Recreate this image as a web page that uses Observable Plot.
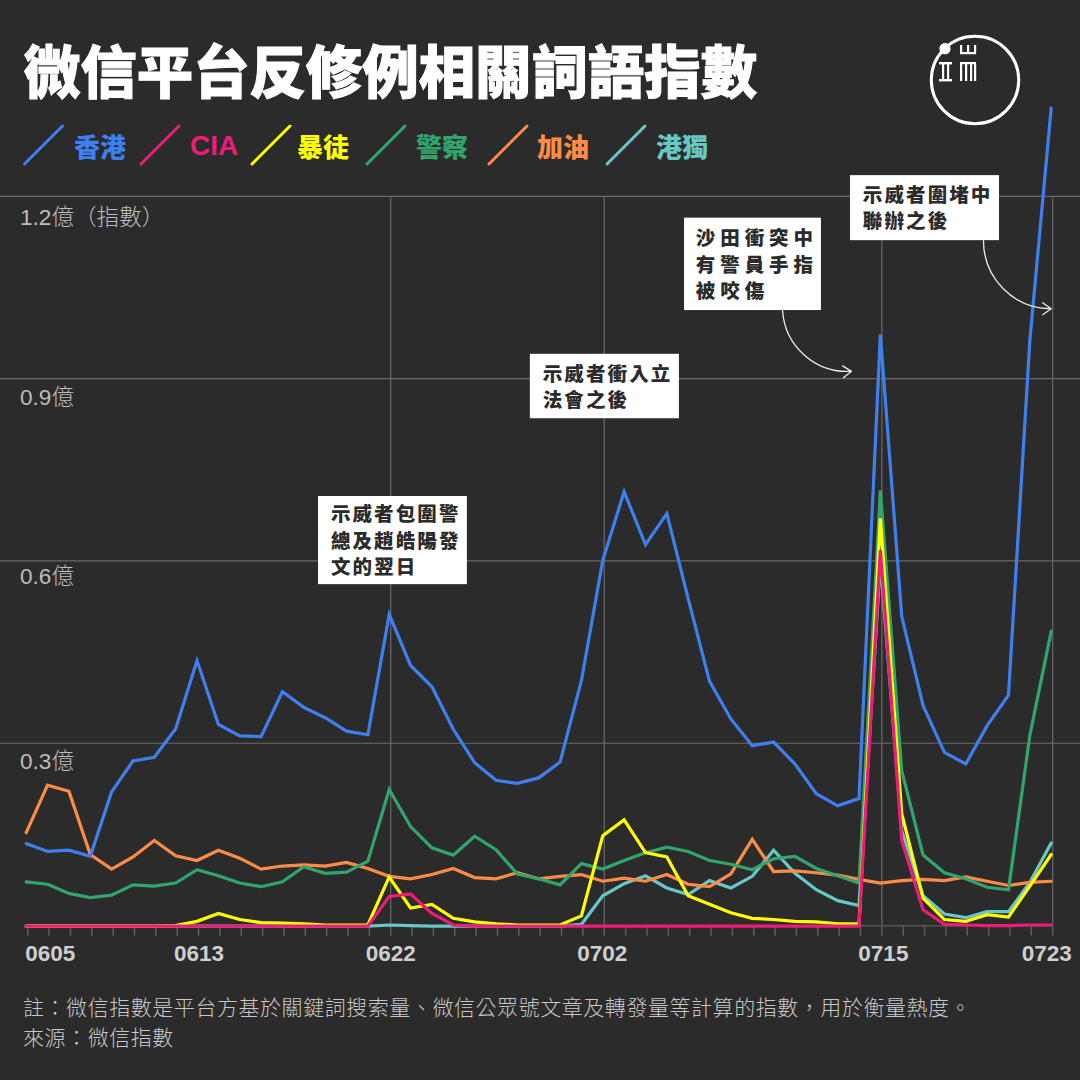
<!DOCTYPE html>
<html lang="zh-Hant"><head><meta charset="utf-8">
<script src="https://cdn.jsdelivr.net/npm/d3@7"></script>
<script src="https://cdn.jsdelivr.net/npm/@observablehq/plot@0.6"></script>
<style>
html,body{margin:0;padding:0;background:#2b2b2b;width:1080px;height:1080px;overflow:hidden}
body{position:relative;font-family:"Noto Sans CJK TC","Liberation Sans",sans-serif}
#title{position:absolute;left:24px;top:29px;font-size:56.4px;line-height:80px;font-weight:900;color:#fff;white-space:nowrap;-webkit-text-stroke:1px #fff}
#chart{position:absolute;left:0;top:100px}
#chart svg{display:block;overflow:visible}
#legend span{position:absolute;top:128px;font-size:26px;line-height:36px;font-weight:900;white-space:nowrap}
#swatches,#logo{position:absolute;left:0;top:0}
#caption{position:absolute;left:23px;top:990.5px;font-size:21px;line-height:30px;letter-spacing:.55px;color:#c8c8c8;font-weight:300;white-space:nowrap}
</style></head><body>
<div id="chart"></div>
<div id="title"></div>
<svg id="swatches" width="1080" height="200"></svg>
<div id="legend"></div>
<svg id="logo" width="1080" height="200" fill="#fff">
  <circle cx="975" cy="80" r="43.7" fill="none" stroke="#fff" stroke-width="3"/>
  <circle cx="945" cy="48.7" r="5.6"/>
  <rect x="939" y="62" width="13" height="2.4"/><rect x="939" y="79" width="13" height="2.4"/>
  <rect x="942" y="64" width="2.2" height="15"/><rect x="947" y="64" width="2.2" height="15"/>
  <rect x="960" y="45" width="2.2" height="8"/><rect x="967" y="45" width="2.2" height="8"/><rect x="974" y="45" width="2.2" height="8"/><rect x="960" y="52" width="16" height="2.2"/>
  <rect x="960" y="62" width="16" height="2.2"/><rect x="960" y="64" width="2.2" height="17"/><rect x="965" y="64" width="2.2" height="17"/><rect x="970" y="64" width="2.2" height="17"/><rect x="974" y="64" width="2.2" height="17"/>
</svg>
<div id="caption"></div>
<script>
const titleText = "微信平台反修例相關詞語指數";
const captionLines = ["註：微信指數是平台方基於關鍵詞搜索量、微信公眾號文章及轉發量等計算的指數，用於衡量熱度。", "來源：微信指數"];
const dates = d3.utcDay.range(new Date(Date.UTC(2019,5,5)), new Date(Date.UTC(2019,6,24)));
const terms = ["香港","CIA","暴徒","警察","加油","港獨"];
const colors = ["#3f80f0","#ec1c78","#ffff00","#32a56e","#ff8c46","#68c8c8"];

const hongkong = [.136,.123,.125,.115,.221,.272,.278,.325,.437,.332,.313,.312,.386,.360,.343,.321,.315,.513,.429,.394,.324,.269,.240,.235,.244,.270,.404,.602,.715,.628,.679,.539,.403,.341,.297,.303,.267,.218,.198,.210,.974,.510,.363,.286,.267,.330,.380,.964,1.346];
const cia = [0,0,0,0,0,0,0,0,0,0,0,0,0,0,0,0,0,.049,.053,.021,.002,0,0,0,0,0,0,0,0,0,0,0,0,0,0,0,0,0,0,0,.619,.141,.027,.003,.002,.001,.001,.002,.002];
const thugs = [0,0,0,0,0,0,0,.001,.008,.021,.011,.006,.005,.004,.002,.002,.002,.081,.030,.036,.013,.007,.004,.002,.002,.002,.017,.149,.175,.121,.114,.050,.036,.022,.013,.011,.008,.007,.004,.004,.671,.185,.046,.011,.008,.019,.015,.066,.118];
const police = [.073,.069,.054,.047,.051,.068,.066,.071,.093,.083,.071,.065,.073,.098,.087,.089,.107,.225,.164,.129,.117,.148,.126,.086,.078,.068,.103,.094,.108,.121,.130,.123,.108,.102,.093,.111,.115,.095,.083,.071,.717,.256,.117,.088,.078,.064,.060,.314,.485];
const jiayou = [.154,.232,.222,.118,.094,.114,.141,.116,.108,.125,.112,.094,.099,.101,.099,.105,.095,.082,.078,.085,.095,.080,.078,.088,.078,.082,.085,.074,.079,.074,.085,.069,.065,.086,.143,.090,.091,.088,.084,.077,.071,.075,.077,.075,.081,.074,.067,.072,.074];
const independence = [0,0,0,0,0,0,0,0,0,0,0,0,0,0,0,0,0,.002,.001,0,0,0,0,0,0,0,.003,.050,.070,.083,.063,.052,.075,.063,.082,.125,.087,.060,.042,.034,.60,.157,.050,.020,.014,.024,.024,.072,.137];

const seriesByTerm = {"港獨":independence,"加油":jiayou,"警察":police,"暴徒":thugs,"CIA":cia,"香港":hongkong};
const rows = Object.entries(seriesByTerm).flatMap(([term,vals]) => vals.map((value,i) => ({term,date:dates[i],value})));

const labelDates = ["0605","0613","0622","0702","0715","0723"];
const labelNudge = [24,2,1.5,-.5,3,-4.5];
const gridDates = ["0622","0702","0715","0723"];
const yTicks = [0.3,0.6,0.9,1.2];
const yLabels = ["0.3億","0.6億","0.9億","1.2億（指數）"];
const yNudge = [18,15,19,21];

const md = s => new Date(Date.UTC(2019,+s.slice(0,2)-1,+s.slice(2)));
const at = d => new Date(+dates[0] + d*864e5);

// annotations, positioned in data space (days after first date, index value)
const boxes = [
 {x1:13.69,x2:20.66,y1:.562,y2:.707},
 {x1:23.61,x2:30.59,y1:.835,y2:.941},
 {x1:30.83,x2:37.24,y1:1.013,y2:1.165},
 {x1:38.60,x2:45.58,y1:1.128,y2:1.235}];
const notes = [
 {x:14.27,y:.637,text:"示威者包圍警\n總及趙皓陽發\n文的翌日"},
 {x:24.19,y:.890,text:"示威者衝入立\n法會之後"},
 {x:39.18,y:1.184,text:"示威者圍堵中\n聯辦之後"}];
const wideNotes = [{x:31.36,y:1.091,text:"沙田衝突中\n有警員手指\n被咬傷"}];
const arrows = [
 {x1:35.42,y1:1.013,x2:38.65,y2:.913},
 {x1:44.83,y1:1.128,x2:48.0,y2:1.016}];

const GRID="#6a6a6a", SANS='"Liberation Sans","Noto Sans CJK TC",sans-serif', CJK='"Noto Sans CJK TC",sans-serif';
const noteOpts = {x:d=>at(d.x),y:"y",text:"text",textAnchor:"start",lineAnchor:"middle",lineHeight:1.35,fontSize:19.5,fontWeight:900,fontFamily:CJK,fill:"#2b2b2b"};
const spaced = px => (index,scales,values,dims,ctx,next) => { const g = next(index,scales,values,dims,ctx); g.style.letterSpacing = px; return g; };

const plot = Plot.plot({
  width:1080,height:875,marginLeft:0,marginRight:0,marginTop:96.4,marginBottom:49.3,
  style:{background:"transparent",color:"#ccc",overflow:"visible"},
  x:{type:"utc",domain:[dates[0],dates[48]],range:[25.7,1050.7]},
  y:{domain:[0,1.2]},
  color:{domain:terms,range:colors},
  marks:[
    Plot.ruleY(yTicks,{dy:-.6,stroke:GRID,strokeWidth:1.2}),
    Plot.ruleX(gridDates.map(md),{y1:0,y2:1.2,dx:1.5,stroke:GRID,strokeWidth:1.2}),
    Plot.ruleY([0],{x1:dates[0],x2:dates[48],dx:2,dy:-.5,stroke:"#555",strokeWidth:1.5}),
    Plot.axisX({ticks:dates,tickSize:10,tickFormat:()=>"",dx:1.5,stroke:"#5e5e5e",strokeWidth:1.5,label:null}),
    ...labelDates.map((s,i)=>Plot.axisX({ticks:[md(s)],tickSize:0,tickPadding:19,tickFormat:d3.utcFormat("%m%d"),dx:labelNudge[i],label:null,fontSize:22.5,fontWeight:700,fontFamily:SANS,fill:"#cfcfcf"})),
    ...yTicks.map((v,i)=>Plot.axisY({ticks:[v],anchor:"left",tickSize:0,tickPadding:0,tickFormat:()=>yLabels[i],textAnchor:"start",dx:19.5,dy:yNudge[i],label:null,fontSize:22.6,fontWeight:300,fontFamily:SANS,fill:"#bdbdbd"})),
    Plot.line(rows,{x:"date",y:"value",stroke:"term",z:"term",strokeWidth:3.2,strokeLinejoin:"miter",strokeMiterlimit:4}),
    Plot.rect(boxes,{x1:d=>at(d.x1),x2:d=>at(d.x2),y1:"y1",y2:"y2",fill:"#fff"}),
    Plot.text(notes,{...noteOpts,render:spaced("2.1px")}),
    Plot.text(wideNotes,{...noteOpts,render:spaced("4.9px")}),
    Plot.arrow(arrows,{x1:d=>at(d.x1),y1:"y1",x2:d=>at(d.x2),y2:"y2",bend:-45,stroke:"#eee",strokeWidth:1.3,headLength:12,headAngle:70})
  ]
});
document.getElementById("chart").append(plot);

document.getElementById("title").textContent = titleText;
document.getElementById("caption").innerHTML = captionLines.join("<br>");

const swatchX = [23.5,140,251,366,488,606];
const labelX = [74,190,297,416,537,656];
const sw = d3.select("#swatches");
terms.forEach((t,i)=>{
  sw.append("line").attr("x1",swatchX[i]+1).attr("y1",164).attr("x2",swatchX[i]+39).attr("y2",126)
    .attr("stroke",colors[i]).attr("stroke-width",3).attr("stroke-linecap","round");
  const s = d3.select("#legend").append("span").text(t).style("left",labelX[i]+"px").style("color",colors[i]);
  if (t === "CIA") s.style("font-family",'"Liberation Sans",sans-serif').style("font-weight",700).style("font-size","28px");
});
</script></body></html>
